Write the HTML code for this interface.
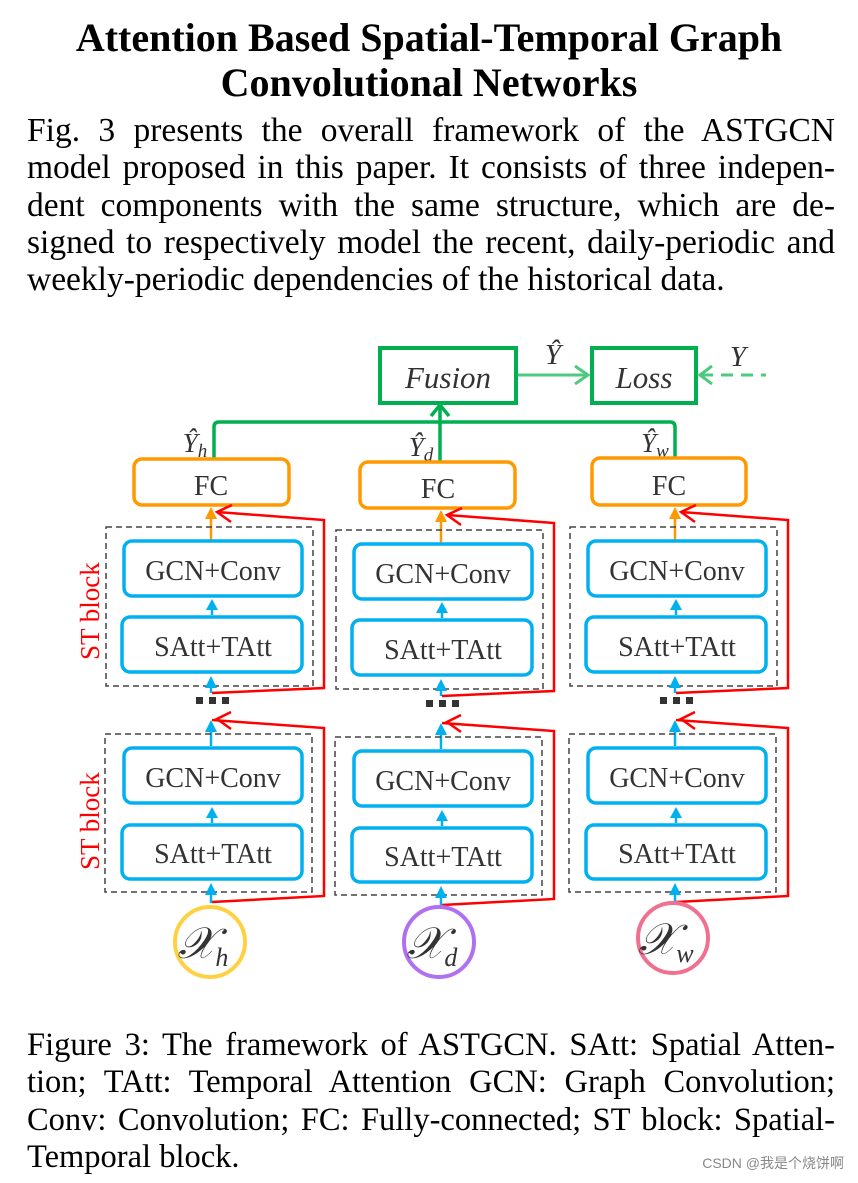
<!DOCTYPE html>
<html><head><meta charset="utf-8"><style>
body{margin:0;background:#fff;width:858px;height:1183px;overflow:hidden;position:relative;font-family:"Liberation Serif",serif;color:#000}
.t{position:absolute;left:0;width:858px;text-align:center;font-weight:bold;font-size:40px;line-height:45px;white-space:nowrap}
.p{position:absolute;left:27px;width:808px;font-size:33.5px;line-height:37.3px;text-align:justify;text-align-last:justify}
.p span{display:block;white-space:nowrap}
.wm{position:absolute;right:14px;top:1153px;font-family:"Liberation Sans","Noto Sans CJK SC",sans-serif;font-size:14px;color:#888}
</style></head><body>
<div class="t" style="top:15px">Attention Based Spatial-Temporal Graph</div>
<div class="t" style="top:60px">Convolutional Networks</div>
<div class="p" style="top:112px"><span>Fig. 3 presents the overall framework of the ASTGCN</span><span>model proposed in this paper. It consists of three indepen-</span><span>dent components with the same structure, which are de-</span><span>signed to respectively model the recent, daily-periodic and</span><span style="text-align-last:left">weekly-periodic dependencies of the historical data.</span></div>
<svg style="position:absolute;left:0;top:0" width="858" height="1183" font-family="Liberation Serif, serif">
<defs>
<g id="blk">
<line x1="211" y1="540" x2="211" y2="515" stroke="#ff9900" stroke-width="2.5"/>
<path d="M205,519 L211,507 L217,519z" fill="#ff9900"/>
<rect x="106" y="527" width="207" height="159" fill="none" stroke="#444" stroke-width="1.5" stroke-dasharray="6,4"/>
<rect x="124" y="541" width="178" height="55" rx="8" fill="none" stroke="#00b0f0" stroke-width="3.5"/>
<text x="213" y="580" font-size="28" text-anchor="middle" fill="#333">GCN+Conv</text>
<rect x="122" y="617" width="180" height="55" rx="8" fill="none" stroke="#00b0f0" stroke-width="3.5"/>
<text x="213" y="656" font-size="28" text-anchor="middle" fill="#333">SAtt+TAtt</text>
<line x1="212" y1="615" x2="212" y2="605" stroke="#00b0f0" stroke-width="2.5"/>
<path d="M206,610 L212,599 L218,610z" fill="#00b0f0"/>
<line x1="211" y1="693" x2="211" y2="685" stroke="#00b0f0" stroke-width="2.5"/>
<path d="M205,688 L211,676 L217,688z" fill="#00b0f0"/>
<path d="M212,693 L324,688 L324,520 L217,512" fill="none" stroke="red" stroke-width="2.5"/>
<path d="M232,505 L217,512 L231,522" fill="none" stroke="red" stroke-width="2.5"/>
<rect x="196" y="697" width="7" height="7" fill="#333"/><rect x="209" y="697" width="7" height="7" fill="#333"/><rect x="222" y="697" width="7" height="7" fill="#333"/>
<line x1="211" y1="746" x2="211" y2="728" stroke="#00b0f0" stroke-width="2.5"/>
<path d="M205,732 L211,720 L217,732z" fill="#00b0f0"/>
<path d="M212,720 L324,728 L324,896 L212,902" fill="none" stroke="red" stroke-width="2.5"/>
<path d="M231,712 L217,719 L231,729" fill="none" stroke="red" stroke-width="2.5"/>
<rect x="105" y="734" width="207" height="158" fill="none" stroke="#444" stroke-width="1.5" stroke-dasharray="6,4"/>
<rect x="124" y="748" width="178" height="55" rx="8" fill="none" stroke="#00b0f0" stroke-width="3.5"/>
<text x="213" y="787" font-size="28" text-anchor="middle" fill="#333">GCN+Conv</text>
<rect x="122" y="825" width="180" height="54" rx="8" fill="none" stroke="#00b0f0" stroke-width="3.5"/>
<text x="213" y="863" font-size="28" text-anchor="middle" fill="#333">SAtt+TAtt</text>
<line x1="212" y1="823" x2="212" y2="813" stroke="#00b0f0" stroke-width="2.5"/>
<path d="M206,818 L212,807 L218,818z" fill="#00b0f0"/>
<line x1="211" y1="903" x2="211" y2="893" stroke="#00b0f0" stroke-width="2.5"/>
<path d="M205,895 L211,883 L217,895z" fill="#00b0f0"/>
</g>
</defs>
<rect x="380" y="348" width="136" height="55" fill="none" stroke="#00b050" stroke-width="4"/>
<text x="448" y="388" font-size="31" font-style="italic" text-anchor="middle" fill="#333">Fusion</text>
<rect x="592" y="348" width="104" height="55" fill="none" stroke="#00b050" stroke-width="4"/>
<text x="644" y="388" font-size="31" font-style="italic" text-anchor="middle" fill="#333">Loss</text>
<line x1="518" y1="375" x2="588" y2="375" stroke="#4cca80" stroke-width="3"/>
<path d="M575,366 L588,375 L575,384" fill="none" stroke="#4cca80" stroke-width="3"/>
<line x1="701" y1="375" x2="766" y2="375" stroke="#4cca80" stroke-width="3" stroke-dasharray="12,8"/>
<path d="M712,366 L700,375 L712,384" fill="none" stroke="#4cca80" stroke-width="3"/>
<text x="553" y="364" font-size="29" font-style="italic" text-anchor="middle" fill="#333">Ŷ</text>
<text x="738" y="366" font-size="29" font-style="italic" text-anchor="middle" fill="#333">Y</text>
<path d="M214,458 L214,427 Q214,422 219,422 L670,422 Q675,422 675,427 L675,457" fill="none" stroke="#00b050" stroke-width="3.5"/>
<line x1="440" y1="462" x2="440" y2="406" stroke="#00b050" stroke-width="3.5"/>
<path d="M431,416 L440,405 L449,416" fill="none" stroke="#00b050" stroke-width="3.5"/>
<text x="195" y="452" font-size="27" font-style="italic" text-anchor="middle" fill="#333">Ŷ<tspan font-size="19" dy="5">h</tspan></text>
<text x="421" y="456" font-size="27" font-style="italic" text-anchor="middle" fill="#333">Ŷ<tspan font-size="19" dy="5">d</tspan></text>
<text x="655" y="452" font-size="27" font-style="italic" text-anchor="middle" fill="#333">Ŷ<tspan font-size="19" dy="5">w</tspan></text>
<rect x="134" y="459" width="155" height="46" rx="8" fill="none" stroke="#ff9900" stroke-width="3.5"/>
<text x="211" y="495" font-size="28" text-anchor="middle" fill="#333">FC</text>
<rect x="360" y="462" width="155" height="46" rx="8" fill="none" stroke="#ff9900" stroke-width="3.5"/>
<text x="438" y="498" font-size="28" text-anchor="middle" fill="#333">FC</text>
<rect x="592" y="458" width="154" height="47" rx="8" fill="none" stroke="#ff9900" stroke-width="3.5"/>
<text x="669" y="495" font-size="28" text-anchor="middle" fill="#333">FC</text>
<use href="#blk"/>
<use href="#blk" transform="translate(230,3)"/>
<use href="#blk" transform="translate(464,0)"/>
<text font-size="27" fill="red" transform="translate(99,660) rotate(-90)">ST block</text>
<text font-size="27" fill="red" transform="translate(99,870) rotate(-90)">ST block</text>
<circle cx="210" cy="942" r="35" fill="none" stroke="#ffd040" stroke-width="4"/>
<text x="203" y="958" font-size="44" font-style="italic" text-anchor="middle" fill="#333">𝒳<tspan font-size="26" dy="8">h</tspan></text>
<circle cx="439" cy="942" r="35" fill="none" stroke="#b070f0" stroke-width="4"/>
<text x="432" y="958" font-size="44" font-style="italic" text-anchor="middle" fill="#333">𝒳<tspan font-size="26" dy="8">d</tspan></text>
<circle cx="673" cy="938" r="35" fill="none" stroke="#f07090" stroke-width="4"/>
<text x="666" y="954" font-size="44" font-style="italic" text-anchor="middle" fill="#333">𝒳<tspan font-size="26" dy="8">w</tspan></text>
</svg>
<div class="p" style="top:1027px;font-size:32.5px"><span>Figure 3: The framework of ASTGCN. SAtt: Spatial Atten-</span><span>tion; TAtt: Temporal Attention GCN: Graph Convolution;</span><span>Conv: Convolution; FC: Fully-connected; ST block: Spatial-</span><span style="text-align-last:left">Temporal block.</span></div>
<div class="wm">CSDN @我是个烧饼啊</div>
</body></html>
